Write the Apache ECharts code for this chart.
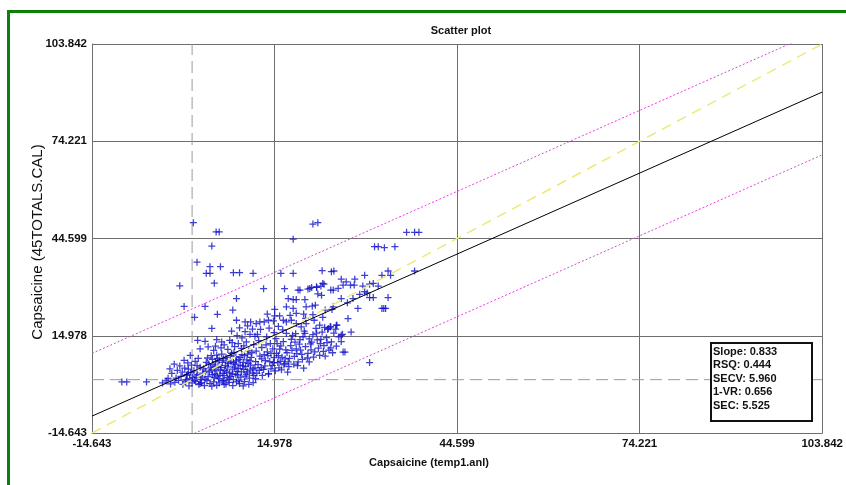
<!DOCTYPE html>
<html>
<head>
<meta charset="utf-8">
<title>Scatter plot</title>
<script src="https://cdn.jsdelivr.net/npm/echarts@6/dist/echarts.min.js"></script>
<style>
  html, body { margin: 0; padding: 0; background: #fff; }
  #chart { width: 846px; height: 485px; }
</style>
</head>
<body>
<div id="chart"></div>
<script>
// axis ticks (same on both axes)
const axisTicks = [-14.643, 14.978, 44.599, 74.221, 103.842];

// reference vs predicted values
const floorPoints = [
  [-9.8, 0.9], [-9.0, 0.9], [-5.8, 0.9], [-3.2, 0.6], [-2.6, 1.2], [-1.9, 0.3], [-1.2, 0.8],
  [-0.6, 1.4], [0.1, 0.2], [0.5, 0.9], [1.1, -0.3], [1.6, 0.6], [2.2, 1.1], [2.7, 0.1],
  [3.1, 0.7], [3.6, -0.2], [4.0, 1.3], [4.5, 0.4], [5.1, 0.9], [5.6, -0.1], [6.0, 0.6],
  [6.5, 1.2], [7.1, 0.3], [7.6, 0.8], [8.2, -0.2], [8.8, 0.9], [9.3, 0.4], [10.1, 1.0],
  [10.8, 0.2], [11.5, 0.7], [2.9, 0.4], [4.8, -0.4], [6.8, 0.1], [9.9, -0.3]
];
const leftCluster = [
  [-2.3, 2.0], [-1.7, 3.5], [-1.3, 6.3], [0.3, 7.5], [-0.8, 4.4], [-0.2, 2.6], [0.4, 5.1],
  [0.8, 3.2], [1.2, 1.9], [1.5, 6.0], [1.9, 4.3], [2.3, 2.7], [2.6, 8.1], [2.9, 5.4],
  [3.3, 3.6], [3.7, 1.8], [3.9, 6.9], [-1.0, 2.1], [0.0, 3.9], [0.6, 1.5], [1.0, 4.8],
  [1.7, 2.3], [2.1, 7.2], [2.5, 3.1], [3.0, 1.7], [3.5, 4.9], [-2.0, 4.9], [-0.4, 5.8],
  [1.3, 9.0], [0.9, 6.7], [2.5, 13.6], [3.7, 13.3], [5.6, 13.8], [6.4, 13.1], [7.7, 13.6],
  [2.9, 11.0], [4.2, 11.6], [5.1, 10.5], [6.3, 11.3], [7.4, 10.8], [8.5, 11.7], [9.6, 11.1],
  [10.8, 10.4]
];
const coreCluster = [
  [4.2, 2.5], [4.6, 5.2], [4.9, 7.8], [5.3, 3.4], [5.6, 9.1], [5.9, 1.9], [6.2, 4.6],
  [6.5, 6.9], [6.8, 2.8], [7.1, 8.4], [7.4, 5.5], [7.7, 3.7], [8.0, 9.6], [8.3, 1.6],
  [8.6, 6.3], [8.9, 4.1], [9.2, 7.7], [9.5, 2.4], [9.8, 5.8], [10.1, 8.9], [10.4, 3.3],
  [10.7, 6.6], [11.0, 4.5], [11.3, 9.8], [11.6, 2.9], [11.9, 7.1], [4.4, 3.9], [5.0, 6.1],
  [5.5, 4.3], [6.0, 7.5], [6.6, 3.5], [7.0, 5.9], [7.3, 2.2], [7.9, 7.0], [8.2, 4.8],
  [8.7, 8.6], [9.0, 3.0], [9.4, 6.0], [10.0, 4.7], [10.5, 7.6], [11.1, 6.0], [11.8, 5.2],
  [4.7, 8.9], [6.4, 9.4], [7.6, 1.8], [8.4, 9.9], [9.7, 9.2], [10.9, 2.1], [5.2, 2.2],
  [6.9, 4.4], [4.3, 6.4], [4.8, 4.6], [5.4, 7.0], [5.8, 5.6], [6.1, 3.0], [6.7, 8.0],
  [7.2, 4.0], [7.5, 6.6], [8.1, 3.4], [8.5, 5.4], [8.8, 7.3], [9.1, 5.0], [9.6, 4.0],
  [9.9, 6.9], [10.3, 5.6], [10.6, 4.0], [11.2, 8.4], [11.5, 4.9], [7.8, 8.9], [5.7, 8.1],
  [8.9, 15.0], [9.3, 17.4], [9.7, 14.3], [10.2, 16.2], [10.6, 18.0], [11.0, 15.4],
  [11.4, 17.0], [11.8, 14.8], [9.1, 12.6], [10.4, 13.1], [11.6, 12.3], [8.0, 16.4]
];
const denseCore = [
  [0.7, 2.9], [1.4, 3.8], [2.0, 1.4], [2.4, 5.9], [3.2, 2.4], [3.8, 4.2], [4.1, 8.2],
  [4.9, 3.1], [5.3, 5.6], [5.7, 2.7], [6.3, 5.3], [6.7, 1.3], [7.3, 7.3], [7.9, 2.6],
  [8.3, 6.8], [8.7, 3.2], [9.2, 1.2], [9.4, 8.3], [10.2, 2.7], [10.6, 9.4], [11.0, 7.3],
  [11.4, 3.6], [11.9, 1.9], [12.5, 4.4], [12.9, 7.9], [13.4, 5.8], [13.9, 8.9], [14.4, 4.9],
  [14.8, 6.8], [15.3, 9.6], [15.7, 5.2], [16.2, 8.4], [16.8, 10.7], [17.2, 7.0], [17.7, 13.9],
  [18.1, 6.3], [18.6, 9.5], [19.0, 12.4], [19.5, 7.8], [19.9, 15.7], [20.4, 9.6], [21.0, 13.0],
  [21.3, 8.5], [21.8, 15.8], [22.4, 12.6], [22.9, 10.2], [23.5, 12.9], [24.1, 11.3], [12.2, 15.4],
  [13.6, 12.2], [14.9, 15.9], [15.4, 12.6], [16.3, 16.8], [18.4, 15.6], [19.8, 16.4], [10.0, 11.9],
  [8.1, 12.9], [6.8, 12.2], [5.4, 11.8], [12.7, 16.9], [14.1, 17.3], [15.6, 17.8], [21.2, 21.4],
  [22.8, 20.6], [20.0, 20.3], [17.5, 21.2], [26.9, 20.2], [27.4, 16.1], [26.8, 25.0], [28.8, 27.6]
];
const midCluster = [
  [12.1, 3.6], [12.3, 6.2], [12.6, 8.8], [12.9, 11.4], [13.2, 4.7], [13.5, 7.4], [13.8, 10.1],
  [14.0, 3.4], [14.3, 12.6], [14.6, 5.9], [14.9, 8.3], [15.2, 14.1], [15.5, 6.8], [15.8, 10.9],
  [16.1, 4.6], [16.4, 13.2], [16.7, 7.9], [17.0, 9.8], [17.3, 5.6], [17.6, 12.0], [17.9, 15.1],
  [18.2, 8.7], [18.5, 11.0], [18.8, 7.0], [19.1, 13.8], [19.4, 9.3], [19.7, 5.1], [20.0, 11.7],
  [12.4, 13.5], [12.8, 5.3], [13.3, 9.2], [13.7, 14.6], [14.2, 7.1], [14.7, 11.0], [15.1, 4.3],
  [15.6, 8.9], [16.0, 11.9], [16.5, 6.1], [16.9, 15.7], [17.4, 8.1], [17.8, 10.5], [18.3, 13.0],
  [18.7, 5.9], [19.2, 10.6], [19.6, 14.6], [12.0, 10.3], [13.0, 2.9], [14.4, 9.6], [15.9, 7.2],
  [17.1, 3.9], [20.6, 7.0], [16.6, 6.5], [14.0, 3.4],
  [8.8, 19.7], [10.2, 19.2], [11.1, 19.2], [12.0, 18.7], [12.6, 19.2], [13.3, 19.2], [14.0, 19.7],
  [14.8, 19.5], [13.8, 21.6], [15.0, 21.0], [15.8, 21.0], [16.4, 19.7], [15.0, 23.0], [16.9, 23.8],
  [18.0, 23.3], [18.5, 21.8], [19.7, 21.6], [16.9, 19.2], [17.7, 19.7], [18.5, 18.7], [19.3, 17.7],
  [20.1, 18.7], [21.4, 19.7], [22.3, 18.2], [23.1, 17.5], [24.1, 17.7]
];
const rightCluster = [
  [20.3, 8.2], [20.8, 12.5], [21.2, 15.3], [21.5, 10.1], [21.9, 13.7], [22.3, 9.0], [22.7, 16.1],
  [23.0, 12.0], [23.4, 14.4], [23.8, 10.6], [24.2, 13.1], [24.6, 15.8], [25.0, 11.8], [25.4, 14.6],
  [20.6, 14.0], [21.7, 17.2], [22.1, 11.2], [23.6, 16.9], [24.4, 9.8], [25.8, 13.2], [20.9, 10.7],
  [22.5, 13.9], [23.2, 8.8], [24.9, 17.0], [26.1, 10.0], [26.4, 10.0], [30.4, 6.8], [25.8, 15.1],
  [25.0, 18.2], [23.7, 17.2], [26.0, 15.4], [24.0, 17.7], [25.1, 18.2],
  [17.2, 26.3], [18.0, 26.0], [18.5, 26.0], [19.9, 26.0], [20.1, 23.8], [21.1, 24.0], [21.6, 24.3],
  [23.2, 22.8], [24.3, 23.0], [19.1, 28.9], [20.4, 29.2], [21.0, 29.7], [21.8, 29.7], [22.5, 30.1],
  [23.0, 30.7], [22.0, 27.7], [22.6, 27.3], [24.1, 28.9], [13.2, 29.3], [16.6, 29.3], [8.8, 26.3],
  [8.2, 22.8]
];
const upperTail = [
  [22.7, 34.8], [24.2, 34.5], [24.6, 34.7], [25.8, 32.2], [26.6, 31.4], [28.0, 32.2], [29.6, 33.4],
  [31.0, 30.9], [31.8, 30.1], [32.4, 33.4], [33.4, 34.7], [33.8, 33.4], [37.7, 34.7], [26.1, 30.4],
  [27.3, 30.4], [27.9, 30.4], [29.3, 30.1], [30.4, 30.7], [25.3, 29.4], [24.5, 28.9], [29.6, 28.4],
  [30.0, 28.0], [20.7, 29.4], [21.8, 29.9], [22.8, 30.9], [25.8, 26.3], [27.7, 26.3], [30.4, 26.6],
  [31.0, 26.6], [33.4, 26.6], [24.5, 23.8], [28.5, 23.3], [32.4, 23.3], [32.7, 23.3], [33.0, 23.3],
  [16.0, 34.0], [18.0, 34.0], [18.8, 28.9], [11.5, 34.0], [8.3, 34.2], [9.3, 34.2]
];
const outliers = [
  [1.8, 49.4], [5.5, 46.6], [6.0, 46.6], [4.8, 42.3], [2.4, 37.4], [4.5, 36.0], [6.2, 36.0],
  [3.9, 34.0], [4.5, 34.0], [5.2, 31.0], [-0.4, 30.2], [0.3, 23.9], [3.7, 23.9], [5.7, 21.5],
  [2.0, 20.6], [4.8, 17.2], [18.0, 44.4], [21.2, 49.0], [22.0, 49.4], [31.2, 42.1], [31.8, 42.1],
  [32.8, 41.8], [34.5, 42.1], [36.4, 46.5], [37.7, 46.5], [38.4, 46.5]
];

// lines
const identityEnds = [[-14.643, -14.643], [103.842, 103.842]];
const fitEnds = [[-14.643, -9.5], [103.842, 89.2]];
const upperLimitEnds = [[-14.643, 9.6], [103.842, 108.3]];
const lowerLimitEnds = [[-14.643, -28.6], [103.842, 70.1]];
const zeroRef = 1.6;

const stats = ['Slope: 0.833', 'RSQ: 0.444', 'SECV: 5.960', '1-VR: 0.656', 'SEC: 5.525'];

const allPoints = [].concat(floorPoints, leftCluster, coreCluster, denseCore, midCluster, rightCluster, upperTail, outliers);

const fontFam = '"Liberation Sans", Arial, sans-serif';
const gridColor = '#6e6e6e';
const crossPath = 'path://M4.1,0H5.9V10H4.1Z M0,4.1H10V5.9H0Z';

function tickLabel(v) {
  let best = axisTicks[0];
  axisTicks.forEach((t) => {
    if (Math.abs(t - v) < Math.abs(best - v)) best = t;
  });
  return best.toFixed(3);
}

function makeAxis() {
  return {
    type: 'value',
    min: axisTicks[0],
    max: axisTicks[axisTicks.length - 1],
    interval: (axisTicks[axisTicks.length - 1] - axisTicks[0]) / (axisTicks.length - 1),
    axisLine: { show: true, onZero: false, lineStyle: { color: gridColor, width: 1 } },
    axisTick: { show: false },
    splitLine: { show: true, lineStyle: { color: gridColor, width: 1 } },
    axisLabel: {
      formatter: tickLabel,
      color: '#111',
      fontFamily: fontFam,
      fontWeight: 'bold',
      fontSize: 11.5,
      margin: 5,
      showMinLabel: true,
      showMaxLabel: true
    }
  };
}

const chart = echarts.init(document.getElementById('chart'), null, { renderer: 'canvas' });

const option = {
  backgroundColor: '#fff',
  animation: false,
  title: {
    text: 'Scatter plot',
    left: 456,
    top: 20,
    textAlign: 'center',
    textStyle: { fontFamily: fontFam, fontSize: 11, fontWeight: 'bold', color: '#111' }
  },
  grid: { left: 92, right: 23, top: 44, bottom: 52 },
  xAxis: makeAxis(),
  yAxis: makeAxis(),
  series: [
    {
      type: 'scatter',
      data: allPoints,
      symbol: crossPath,
      symbolSize: 7,
      itemStyle: { color: '#0f0fc8' },
      z: 2
    },
    {
      type: 'line',
      data: [[zeroRef, axisTicks[0]], [zeroRef, axisTicks[4]]],
      symbol: 'none',
      lineStyle: { color: '#9a9a9a', width: 1, type: [12, 6] },
      z: 1
    },
    {
      type: 'line',
      data: [[axisTicks[0], zeroRef], [axisTicks[4], zeroRef]],
      symbol: 'none',
      lineStyle: { color: '#9a9a9a', width: 1, type: [12, 6] },
      z: 1
    },
    {
      type: 'line',
      data: identityEnds,
      symbol: 'none',
      lineStyle: { color: '#ecea7a', width: 1.5, type: [10, 7] },
      z: 3
    },
    {
      type: 'line',
      data: fitEnds,
      symbol: 'none',
      lineStyle: { color: '#000', width: 1 },
      z: 4
    },
    {
      type: 'line',
      data: upperLimitEnds,
      symbol: 'none',
      lineStyle: { color: '#e040e0', width: 1, type: [2, 2] },
      z: 3
    },
    {
      type: 'line',
      data: lowerLimitEnds,
      symbol: 'none',
      lineStyle: { color: '#e040e0', width: 1, type: [2, 2] },
      z: 3
    }
  ],
  graphic: [
    {
      type: 'rect',
      shape: { x: 8.5, y: 11.5, width: 900, height: 600 },
      style: { fill: 'none', stroke: '#0a820a', lineWidth: 3 },
      z: 100
    },
    {
      type: 'text',
      x: 38,
      y: 242,
      rotation: Math.PI / 2,
      style: {
        text: 'Capsaicine (45TOTALS.CAL)',
        fontFamily: fontFam,
        fontSize: 15,
        fill: '#111',
        textAlign: 'center',
        textVerticalAlign: 'middle'
      }
    },
    {
      type: 'text',
      x: 429,
      y: 463,
      style: {
        text: 'Capsaicine (temp1.anl)',
        fontFamily: fontFam,
        fontWeight: 'bold',
        fontSize: 11,
        fill: '#111',
        textAlign: 'center',
        textVerticalAlign: 'middle'
      }
    },
    {
      type: 'rect',
      shape: { x: 711, y: 343, width: 101, height: 78 },
      style: { fill: '#fff', stroke: '#111', lineWidth: 2 },
      z: 50
    }
  ].concat(stats.map((s, i) => ({
    type: 'text',
    x: 713,
    y: 352 + i * 13.4,
    z: 51,
    style: {
      text: s,
      fontFamily: fontFam,
      fontWeight: 'bold',
      fontSize: 11,
      fill: '#111',
      textVerticalAlign: 'middle'
    }
  })))
};

chart.setOption(option);
</script>
</body>
</html>
